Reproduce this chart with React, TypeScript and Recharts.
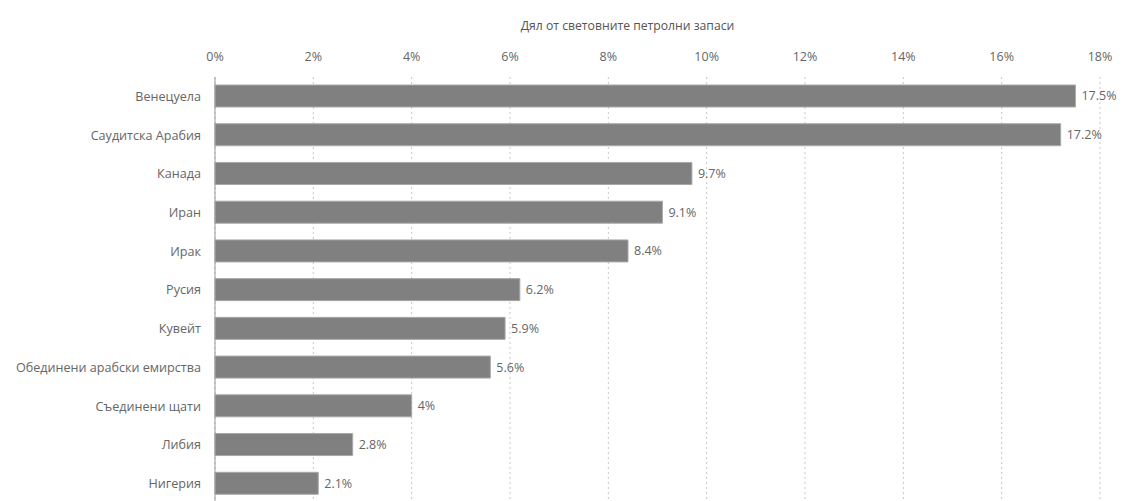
import { BarChart, Bar, XAxis, YAxis, CartesianGrid, LabelList, Label } from 'recharts'

const countries = [
  'Венецуела',
  'Саудитска Арабия',
  'Канада',
  'Иран',
  'Ирак',
  'Русия',
  'Кувейт',
  'Обединени арабски емирства',
  'Съединени щати',
  'Либия',
  'Нигерия',
]

const shares = [17.5, 17.2, 9.7, 9.1, 8.4, 6.2, 5.9, 5.6, 4, 2.8, 2.1]

const xTicks = [0, 2, 4, 6, 8, 10, 12, 14, 16, 18]

const axisTitle = 'Дял от световните петролни запаси'

const data = countries.map((name, i) => ({ name, share: shares[i] }))

const FONT = '"Open Sans", "Noto Sans", sans-serif'

export default function App() {
  return (
    <div style={{ position: 'absolute', left: 0, top: 0, background: '#fff' }}>
      <BarChart
        width={1126}
        height={503}
        data={data}
        layout="vertical"
        margin={{ top: 10, right: 26, bottom: 0, left: 0 }}
        barCategoryGap={8}
        style={{ fontFamily: FONT }}
      >
        <CartesianGrid
          horizontal={false}
          stroke="#c8c8c8"
          strokeDasharray="2 3"
        />
        <XAxis
          type="number"
          orientation="top"
          domain={[0, 18]}
          ticks={xTicks}
          tickFormatter={(v) => `${v}%`}
          axisLine={false}
          tickLine={false}
          tickSize={0}
          tickMargin={16}
          height={67}
          tick={{ fill: '#666', fontSize: 12.5 }}
        >
          <Label
            value={axisTitle}
            position="insideTop"
            offset={11}
            dx={-30}
            style={{ fill: '#555', fontSize: 12.2 }}
          />
        </XAxis>
        <YAxis
          type="category"
          dataKey="name"
          width={215}
          axisLine={{ stroke: '#999' }}
          tickLine={false}
          tickSize={0}
          tickMargin={14}
          interval={0}
          tick={{ fill: '#666', fontSize: 12.6 }}
        />
        <Bar
          dataKey="share"
          fill="#808080"
          stroke="#a8a8a8"
          strokeWidth={1}
          barSize={22}
          isAnimationActive={false}
        >
          <LabelList
            dataKey="share"
            position="right"
            offset={6}
            formatter={(v: any) => `${v}%`}
            style={{ fill: '#666', fontSize: 12.5 }}
          />
        </Bar>
      </BarChart>
    </div>
  )
}
